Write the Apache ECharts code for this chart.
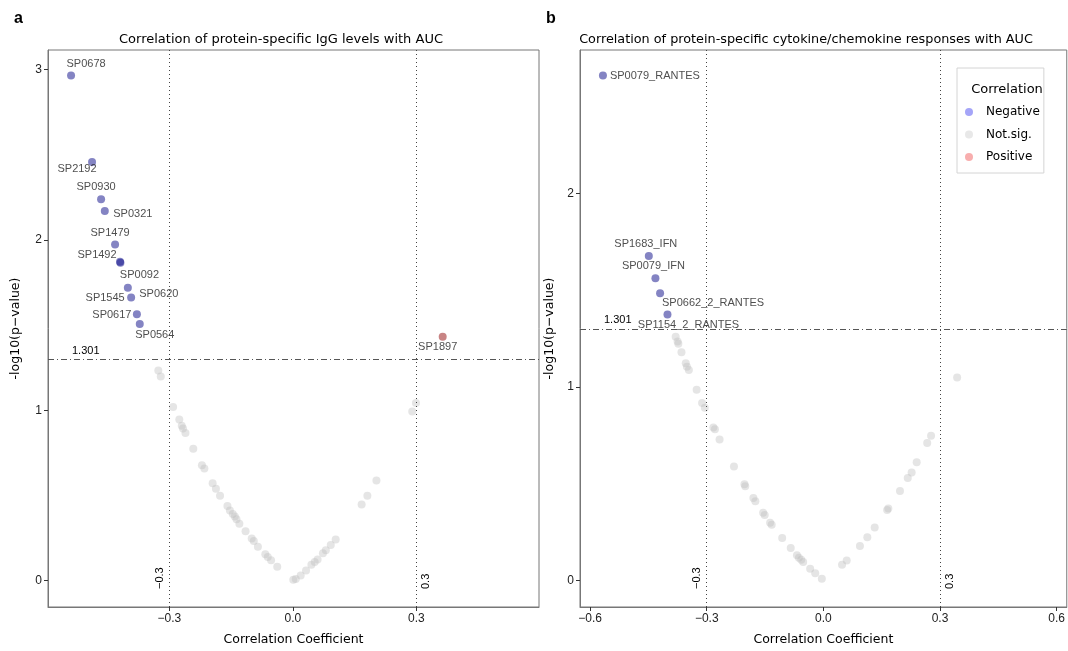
<!DOCTYPE html>
<html>
<head>
<meta charset="utf-8">
<script src="https://cdn.jsdelivr.net/npm/echarts@6/dist/echarts.min.js"></script>
<style>
  html, body { margin: 0; padding: 0; background: #fff; }
  #chart { width: 1068px; height: 651px; }
</style>
</head>
<body>
<div id="chart"></div>
<script>
// panel a: IgG levels
const igNegNames = ['SP0678', 'SP2192', 'SP0930', 'SP0321', 'SP1479', 'SP1492', 'SP0092', 'SP0620', 'SP1545', 'SP0617', 'SP0564'];
const igNegX = [-0.539, -0.488, -0.466, -0.457, -0.432, -0.420, -0.419, -0.401, -0.393, -0.379, -0.372];
const igNegY = [2.966, 2.458, 2.239, 2.170, 1.973, 1.872, 1.866, 1.720, 1.662, 1.564, 1.506];
const igPosNames = ['SP1897'];
const igPosX = [0.364];
const igPosY = [1.431];
const igNsX = [-0.327, -0.321, -0.291, -0.276, -0.270, -0.267, -0.261, -0.242, -0.221, -0.215, -0.195, -0.187, -0.177, -0.159, -0.153, -0.146, -0.141, -0.137, -0.130, -0.115, -0.100, -0.095, -0.085, -0.067, -0.061, -0.053, -0.038, 0.001, 0.007, 0.019, 0.032, 0.045, 0.053, 0.060, 0.073, 0.080, 0.092, 0.104, 0.167, 0.181, 0.203, 0.290, 0.299];
const igNsY = [1.233, 1.198, 1.019, 0.946, 0.908, 0.893, 0.866, 0.773, 0.677, 0.658, 0.571, 0.538, 0.498, 0.437, 0.411, 0.391, 0.375, 0.359, 0.333, 0.289, 0.246, 0.231, 0.198, 0.154, 0.138, 0.119, 0.081, 0.004, 0.008, 0.029, 0.059, 0.092, 0.108, 0.123, 0.160, 0.177, 0.208, 0.241, 0.446, 0.498, 0.587, 0.993, 1.043];

// panel b: cytokine/chemokine responses
const ckNegNames = ['SP0079_RANTES', 'SP1683_IFN', 'SP0079_IFN', 'SP0662_2_RANTES', 'SP1154_2_RANTES'];
const ckNegX = [-0.567, -0.449, -0.432, -0.420, -0.401];
const ckNegY = [2.609, 1.677, 1.562, 1.484, 1.374];
const ckNsX = [-0.380, -0.375, -0.373, -0.365, -0.354, -0.351, -0.346, -0.326, -0.312, -0.305, -0.283, -0.279, -0.267, -0.230, -0.203, -0.201, -0.180, -0.175, -0.155, -0.151, -0.137, -0.133, -0.106, -0.084, -0.068, -0.063, -0.057, -0.052, -0.034, -0.021, -0.004, 0.048, 0.060, 0.094, 0.113, 0.132, 0.164, 0.167, 0.197, 0.217, 0.227, 0.240, 0.267, 0.277, 0.344];
const ckNsY = [1.260, 1.235, 1.223, 1.179, 1.122, 1.105, 1.088, 0.986, 0.917, 0.892, 0.790, 0.782, 0.729, 0.589, 0.497, 0.487, 0.426, 0.410, 0.350, 0.339, 0.298, 0.288, 0.220, 0.168, 0.130, 0.118, 0.107, 0.096, 0.061, 0.037, 0.009, 0.081, 0.103, 0.178, 0.223, 0.274, 0.364, 0.372, 0.462, 0.529, 0.558, 0.611, 0.711, 0.748, 1.049];

const igXTicks = [-0.3, 0, 0.3];
const igYTicks = [0, 1, 2, 3];
const ckXTicks = [-0.6, -0.3, 0, 0.3, 0.6];
const ckYTicks = [0, 1, 2];

// label offsets (px) for the repelled point labels
const igNegOffsets = [[15, -12], [-15, 7], [-5, -12], [28, 3], [-5, -12], [-23, -7], [19, 12], [31, 6], [-26, 0], [-25, 1], [15, 11]];
const igPosOffsets = [[-5, 10]];
const ckNegOffsets = [null, [-3, -12], [-2, -12], [53, 10], [21, 10]];

const SANS = 'DejaVu Sans';
const ARIAL = 'Liberation Sans';

const negColor = 'rgba(20,20,140,0.65)';
const posColor = 'rgba(150,20,20,0.65)';
const nsColor = 'rgba(190,190,190,0.5)';

function labelled(names, xs, ys, offsets) {
    return names.map((n, i) => {
        const off = offsets[i];
        return {
            name: n,
            value: [xs[i], ys[i]],
            label: off ? { show: true, position: 'inside', offset: off }
                       : { show: true, position: 'right', distance: 3 }
        };
    });
}

const pointLabel = {
    show: true,
    formatter: '{b}',
    color: '#222',
    fontSize: 11,
    fontFamily: ARIAL
};

function fmt(v) {
    return (+v).toFixed(1).replace('-', '\u2212');
}

function xAxisFor(idx, min, max, ticks) {
    return {
        type: 'value', gridIndex: idx, min: min, max: max,
        name: 'Correlation Coefficient', nameLocation: 'middle', nameGap: 26,
        nameTextStyle: { fontFamily: SANS, fontSize: 12.5, color: '#000' },
        axisLine: { show: true, onZero: false, lineStyle: { color: '#777' } },
        axisTick: { show: true, length: 4, customValues: ticks, lineStyle: { color: '#333' } },
        axisLabel: { customValues: ticks, formatter: fmt, margin: 6, fontFamily: ARIAL, fontSize: 12, color: '#222' },
        splitLine: { show: false }
    };
}

function yAxisFor(idx, min, max, ticks, gap) {
    return {
        type: 'value', gridIndex: idx, min: min, max: max,
        name: '-log10(p\u2212value)', nameLocation: 'middle', nameGap: gap, nameRotate: 90,
        nameTextStyle: { fontFamily: SANS, fontSize: 12.5, color: '#000' },
        axisLine: { show: true, onZero: false, lineStyle: { color: '#777' } },
        axisTick: { show: true, length: 4, customValues: ticks, lineStyle: { color: '#333' } },
        axisLabel: { customValues: ticks, formatter: v => String(Math.round(v)), margin: 6, fontFamily: ARIAL, fontSize: 12, color: '#222' },
        splitLine: { show: false }
    };
}

function cutLines() {
    const vLine = { type: [1, 3], color: '#444', width: 1 };
    const lbl = { fontFamily: ARIAL, fontSize: 11, color: '#000', distance: [18, 4] };
    return {
        silent: true, symbol: 'none', animation: false,
        data: [
            { xAxis: -0.3, lineStyle: vLine, label: Object.assign({ show: true, formatter: '\u22120.3', position: 'insideStartTop' }, lbl) },
            { xAxis: 0.3, lineStyle: vLine, label: Object.assign({ show: true, formatter: '0.3', position: 'insideStartBottom' }, lbl) },
            { yAxis: 1.301, lineStyle: { type: [6, 3, 1, 3], color: '#555', width: 1 },
              label: { show: true, formatter: '1.301', position: 'insideStartTop', fontFamily: ARIAL, fontSize: 11, color: '#000', distance: [24, 3] } }
        ]
    };
}

const chart = echarts.init(document.getElementById('chart'));

const option = {
    animation: false,
    title: [
        { text: 'a', left: 9, top: 6, textStyle: { fontFamily: ARIAL, fontSize: 16, fontWeight: 'bold', color: '#000' } },
        { text: 'b', left: 541, top: 6, textStyle: { fontFamily: ARIAL, fontSize: 16, fontWeight: 'bold', color: '#000' } },
        { text: 'Correlation of protein-specific IgG levels with AUC', left: 276, top: 28, textAlign: 'center',
          textStyle: { fontFamily: SANS, fontSize: 13, fontWeight: 'normal', color: '#000' } },
        { text: 'Correlation of protein-specific cytokine/chemokine responses with AUC', left: 801, top: 28, textAlign: 'center',
          textStyle: { fontFamily: SANS, fontSize: 12.8, fontWeight: 'normal', color: '#000' } },
        { text: 'Correlation', left: 1002, top: 78, textAlign: 'center', z: 10,
          textStyle: { fontFamily: SANS, fontSize: 13, fontWeight: 'normal', color: '#000' } }
    ],
    legend: {
        orient: 'vertical', left: 957, top: 68, z: 3,
        padding: [38, 4, 10, 8],
        itemGap: 10.5, itemWidth: 16, itemHeight: 8, icon: 'circle',
        backgroundColor: '#fff', borderColor: '#d4d4d4', borderWidth: 1,
        selectedMode: false,
        textStyle: { fontFamily: SANS, fontSize: 12, color: '#000', padding: [0, 0, 0, 4] },
        data: [
            { name: 'Negative', itemStyle: { color: '#8f8ff6' } },
            { name: 'Not.sig.', itemStyle: { color: '#e2e2e2' } },
            { name: 'Positive', itemStyle: { color: '#f69a9a' } }
        ]
    },
    grid: [
        { left: 48, top: 50, width: 491, height: 567, show: true, borderColor: '#777', borderWidth: 1, backgroundColor: 'transparent' },
        { left: 580, top: 50, width: 488, height: 567, show: true, borderColor: '#777', borderWidth: 1, backgroundColor: 'transparent' }
    ],
    xAxis: [
        xAxisFor(0, -0.595, 0.598, igXTicks),
        xAxisFor(1, -0.626, 0.626, ckXTicks)
    ],
    yAxis: [
        yAxisFor(0, -0.156, 3.116, igYTicks, 26),
        yAxisFor(1, -0.137, 2.741, ckYTicks, 24)
    ],
    series: [
        {
            name: 'Not.sig.', type: 'scatter', xAxisIndex: 0, yAxisIndex: 0, symbolSize: 8, z: 2,
            itemStyle: { color: nsColor },
            data: igNsX.map((x, i) => [x, igNsY[i]]),
            markLine: cutLines()
        },
        {
            name: 'Negative', type: 'scatter', xAxisIndex: 0, yAxisIndex: 0, symbolSize: 8, z: 4,
            itemStyle: { color: negColor },
            label: pointLabel,
            data: labelled(igNegNames, igNegX, igNegY, igNegOffsets)
        },
        {
            name: 'Positive', type: 'scatter', xAxisIndex: 0, yAxisIndex: 0, symbolSize: 8, z: 4,
            itemStyle: { color: posColor },
            label: pointLabel,
            data: labelled(igPosNames, igPosX, igPosY, igPosOffsets)
        },
        {
            name: 'Not.sig.', type: 'scatter', xAxisIndex: 1, yAxisIndex: 1, symbolSize: 8, z: 2,
            itemStyle: { color: nsColor },
            data: ckNsX.map((x, i) => [x, ckNsY[i]]),
            markLine: cutLines()
        },
        {
            name: 'Negative', type: 'scatter', xAxisIndex: 1, yAxisIndex: 1, symbolSize: 8, z: 4,
            itemStyle: { color: negColor },
            label: pointLabel,
            data: labelled(ckNegNames, ckNegX, ckNegY, ckNegOffsets)
        }
    ]
};

chart.setOption(option);
</script>
</body>
</html>
